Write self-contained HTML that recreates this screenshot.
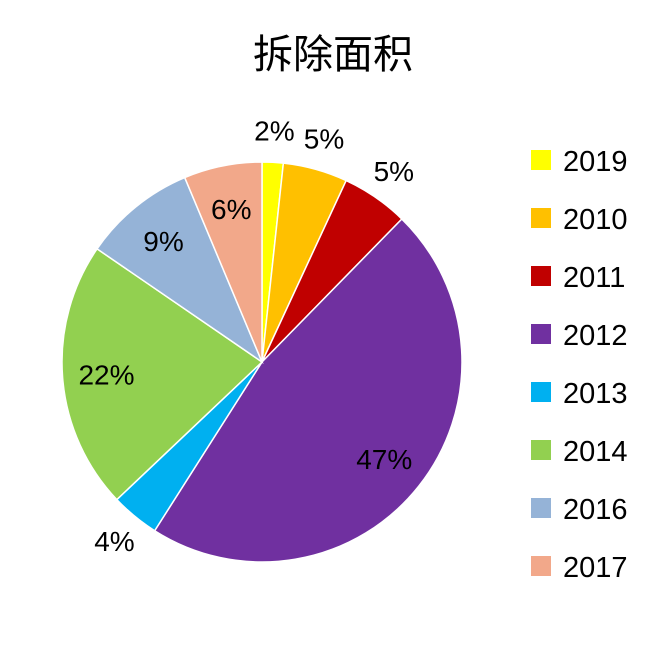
<!DOCTYPE html>
<html><head><meta charset="utf-8"><style>
body{margin:0;background:#fff;width:668px;height:649px;overflow:hidden}
text{font-family:"Liberation Sans","Noto Sans CJK SC",sans-serif}
</style></head><body>
<svg id="c" width="668" height="649">
<text x="333" y="68" text-anchor="middle" font-size="40">拆除面积</text>
</svg>
<script>
const categories=["2019","2010","2011","2012","2013","2014","2016","2017"];
const values=[1.7,5.2,5.4,46.6,3.9,21.6,9.1,6.3];
const colors=["#FFFF00","#FFC000","#C00000","#7030A0","#00B0F0","#92D050","#95B3D7","#F2A88A"];
const svg=document.getElementById('c');
const NS="http://www.w3.org/2000/svg";
const cx=262,cy=362,R=200;
const total=values.reduce((a,b)=>a+b,0);
function pt(a,r){return [cx+r*Math.sin(a),cy-r*Math.cos(a)];}
let acc=0;
values.forEach((v,i)=>{
  const a0=acc/total*2*Math.PI; acc+=v; const a1=acc/total*2*Math.PI;
  const p0=pt(a0,R),p1=pt(a1,R);
  const path=document.createElementNS(NS,'path');
  path.setAttribute('d',`M${cx},${cy}L${p0[0]},${p0[1]}A${R},${R} 0 ${a1-a0>Math.PI?1:0} 1 ${p1[0]},${p1[1]}Z`);
  path.setAttribute('fill',colors[i]);path.setAttribute('stroke','#fff');path.setAttribute('stroke-width','1.5');
  
  
  svg.appendChild(path);
});
acc=0;
values.forEach((v,i)=>{
  const am=(acc+v/2)/total*2*Math.PI; acc+=v;
  const pct=v/total*100;
  const p=pt(am,pct<6?R*1.16:R*0.78);
  const t=document.createElementNS(NS,'text');
  t.setAttribute('x',p[0]);t.setAttribute('y',p[1]+10);t.setAttribute('text-anchor','middle');t.setAttribute('font-size','28');
  t.textContent=Math.round(pct)+'%';
  
  
  svg.appendChild(t);
});
categories.forEach((c,i)=>{
  const y=160+58*i;
  const g=document.createElementNS(NS,'g');
  
  
  const r=document.createElementNS(NS,'rect');
  r.setAttribute('x',531);r.setAttribute('y',y-10);r.setAttribute('width',20);r.setAttribute('height',20);r.setAttribute('fill',colors[i]);
  const t=document.createElementNS(NS,'text');
  t.setAttribute('x',563);t.setAttribute('y',y+11);t.setAttribute('font-size','29');t.textContent=c;
  g.appendChild(r);g.appendChild(t);svg.appendChild(g);
});
</script>
</body></html>
